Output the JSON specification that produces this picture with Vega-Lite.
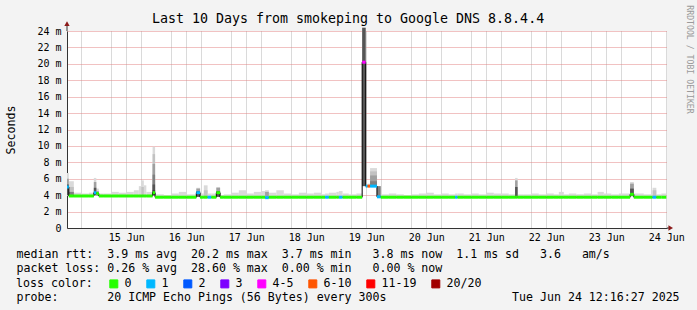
{
  "$schema": "https://vega.github.io/schema/vega-lite/v6.json",
  "width": 600,
  "height": 197,
  "autosize": "none",
  "padding": {"left": 67, "top": 31, "right": 30, "bottom": 82},
  "background": "#f3f3f3",
  "title": {"text": "Last 10 Days from smokeping to Google DNS 8.8.4.4", "font": "DejaVu Sans Mono", "fontSize": 13.3, "fontWeight": "normal", "color": "#000", "anchor": "middle", "frame": "group", "dx": -19, "dy": 27, "offset": 6},
  "datasets": {
    "d": [
      {"t": "2025-06-14T12:16:00Z", "t2": "2025-06-14T13:00:00Z", "m": 5.0, "lo": 3.9, "hi": 6.7, "l": "1"},
      {"t": "2025-06-14T13:00:00Z", "t2": "2025-06-14T15:00:00Z", "m": 3.9, "lo": 3.8, "hi": 5.7, "l": "0"},
      {"t": "2025-06-14T15:00:00Z", "t2": "2025-06-14T18:00:00Z", "m": 3.9, "lo": 3.8, "hi": 4.3, "l": "0"},
      {"t": "2025-06-14T18:00:00Z", "t2": "2025-06-14T21:00:00Z", "m": 3.9, "lo": 3.8, "hi": 4.2, "l": "0"},
      {"t": "2025-06-14T21:00:00Z", "t2": "2025-06-14T23:00:00Z", "m": 3.9, "lo": 3.8, "hi": 4.3, "l": "0"},
      {"t": "2025-06-14T23:00:00Z", "t2": "2025-06-15T00:00:00Z", "m": 4.3, "lo": 3.9, "hi": 6.1, "l": "1"},
      {"t": "2025-06-15T00:00:00Z", "t2": "2025-06-15T01:00:00Z", "m": 4.2, "lo": 3.9, "hi": 4.8, "l": "0"},
      {"t": "2025-06-15T01:00:00Z", "t2": "2025-06-15T03:00:00Z", "m": 3.9, "lo": 3.8, "hi": 4.2, "l": "0"},
      {"t": "2025-06-15T03:00:00Z", "t2": "2025-06-15T06:00:00Z", "m": 3.9, "lo": 3.8, "hi": 4.2, "l": "0"},
      {"t": "2025-06-15T06:00:00Z", "t2": "2025-06-15T09:00:00Z", "m": 3.9, "lo": 3.8, "hi": 4.4, "l": "0"},
      {"t": "2025-06-15T09:00:00Z", "t2": "2025-06-15T12:00:00Z", "m": 3.9, "lo": 3.8, "hi": 4.3, "l": "0"},
      {"t": "2025-06-15T12:00:00Z", "t2": "2025-06-15T15:00:00Z", "m": 3.9, "lo": 3.8, "hi": 4.4, "l": "0"},
      {"t": "2025-06-15T15:00:00Z", "t2": "2025-06-15T17:00:00Z", "m": 3.9, "lo": 3.8, "hi": 4.6, "l": "0"},
      {"t": "2025-06-15T17:00:00Z", "t2": "2025-06-15T18:00:00Z", "m": 3.9, "lo": 3.8, "hi": 5.1, "l": "0"},
      {"t": "2025-06-15T18:00:00Z", "t2": "2025-06-15T19:00:00Z", "m": 3.9, "lo": 3.8, "hi": 5.8, "l": "0"},
      {"t": "2025-06-15T19:00:00Z", "t2": "2025-06-15T20:00:00Z", "m": 3.9, "lo": 3.8, "hi": 5.2, "l": "0"},
      {"t": "2025-06-15T20:00:00Z", "t2": "2025-06-15T22:30:00Z", "m": 3.9, "lo": 3.8, "hi": 4.4, "l": "0"},
      {"t": "2025-06-15T22:30:00Z", "t2": "2025-06-15T23:30:00Z", "m": 4.3, "lo": 3.9, "hi": 9.9, "l": "0"},
      {"t": "2025-06-15T23:30:00Z", "t2": "2025-06-16T03:00:00Z", "m": 3.75, "lo": 3.7, "hi": 4.1, "l": "0"},
      {"t": "2025-06-16T03:00:00Z", "t2": "2025-06-16T06:00:00Z", "m": 3.75, "lo": 3.7, "hi": 4.0, "l": "0"},
      {"t": "2025-06-16T06:00:00Z", "t2": "2025-06-16T09:00:00Z", "m": 3.75, "lo": 3.7, "hi": 4.2, "l": "0"},
      {"t": "2025-06-16T09:00:00Z", "t2": "2025-06-16T12:00:00Z", "m": 3.75, "lo": 3.7, "hi": 4.4, "l": "0"},
      {"t": "2025-06-16T12:00:00Z", "t2": "2025-06-16T16:00:00Z", "m": 3.75, "lo": 3.7, "hi": 4.1, "l": "0"},
      {"t": "2025-06-16T16:00:00Z", "t2": "2025-06-16T17:30:00Z", "m": 4.3, "lo": 3.8, "hi": 4.9, "l": "1"},
      {"t": "2025-06-16T17:30:00Z", "t2": "2025-06-16T19:00:00Z", "m": 3.75, "lo": 3.7, "hi": 4.2, "l": "0"},
      {"t": "2025-06-16T19:00:00Z", "t2": "2025-06-16T20:30:00Z", "m": 3.75, "lo": 3.7, "hi": 5.2, "l": "0"},
      {"t": "2025-06-16T20:30:00Z", "t2": "2025-06-16T22:00:00Z", "m": 3.75, "lo": 3.7, "hi": 4.2, "l": "1"},
      {"t": "2025-06-16T22:00:00Z", "t2": "2025-06-17T00:00:00Z", "m": 3.75, "lo": 3.7, "hi": 4.2, "l": "0"},
      {"t": "2025-06-17T00:00:00Z", "t2": "2025-06-17T01:30:00Z", "m": 4.3, "lo": 3.8, "hi": 5.0, "l": "0"},
      {"t": "2025-06-17T01:30:00Z", "t2": "2025-06-17T03:00:00Z", "m": 3.75, "lo": 3.7, "hi": 4.0, "l": "0"},
      {"t": "2025-06-17T03:00:00Z", "t2": "2025-06-17T06:00:00Z", "m": 3.75, "lo": 3.7, "hi": 4.1, "l": "0"},
      {"t": "2025-06-17T06:00:00Z", "t2": "2025-06-17T09:00:00Z", "m": 3.75, "lo": 3.7, "hi": 4.3, "l": "0"},
      {"t": "2025-06-17T09:00:00Z", "t2": "2025-06-17T12:00:00Z", "m": 3.75, "lo": 3.7, "hi": 4.6, "l": "0"},
      {"t": "2025-06-17T12:00:00Z", "t2": "2025-06-17T15:00:00Z", "m": 3.75, "lo": 3.7, "hi": 4.2, "l": "0"},
      {"t": "2025-06-17T15:00:00Z", "t2": "2025-06-17T18:00:00Z", "m": 3.75, "lo": 3.7, "hi": 4.4, "l": "0"},
      {"t": "2025-06-17T18:00:00Z", "t2": "2025-06-17T19:30:00Z", "m": 3.75, "lo": 3.7, "hi": 4.5, "l": "0"},
      {"t": "2025-06-17T19:30:00Z", "t2": "2025-06-17T21:00:00Z", "m": 3.7, "lo": 3.6, "hi": 4.6, "l": "1"},
      {"t": "2025-06-17T21:00:00Z", "t2": "2025-06-18T00:00:00Z", "m": 3.75, "lo": 3.7, "hi": 4.3, "l": "0"},
      {"t": "2025-06-18T00:00:00Z", "t2": "2025-06-18T03:00:00Z", "m": 3.75, "lo": 3.7, "hi": 4.6, "l": "0"},
      {"t": "2025-06-18T03:00:00Z", "t2": "2025-06-18T06:00:00Z", "m": 3.75, "lo": 3.7, "hi": 4.2, "l": "0"},
      {"t": "2025-06-18T06:00:00Z", "t2": "2025-06-18T09:00:00Z", "m": 3.75, "lo": 3.7, "hi": 4.1, "l": "0"},
      {"t": "2025-06-18T09:00:00Z", "t2": "2025-06-18T12:00:00Z", "m": 3.75, "lo": 3.7, "hi": 4.3, "l": "0"},
      {"t": "2025-06-18T12:00:00Z", "t2": "2025-06-18T15:00:00Z", "m": 3.75, "lo": 3.7, "hi": 4.2, "l": "0"},
      {"t": "2025-06-18T15:00:00Z", "t2": "2025-06-18T18:00:00Z", "m": 3.75, "lo": 3.7, "hi": 4.3, "l": "0"},
      {"t": "2025-06-18T18:00:00Z", "t2": "2025-06-18T19:30:00Z", "m": 3.75, "lo": 3.7, "hi": 4.1, "l": "0"},
      {"t": "2025-06-18T19:30:00Z", "t2": "2025-06-18T21:00:00Z", "m": 3.75, "lo": 3.7, "hi": 4.2, "l": "1"},
      {"t": "2025-06-18T21:00:00Z", "t2": "2025-06-19T00:00:00Z", "m": 3.75, "lo": 3.7, "hi": 4.3, "l": "0"},
      {"t": "2025-06-19T00:00:00Z", "t2": "2025-06-19T01:00:00Z", "m": 3.75, "lo": 3.7, "hi": 4.4, "l": "0"},
      {"t": "2025-06-19T01:00:00Z", "t2": "2025-06-19T02:30:00Z", "m": 3.75, "lo": 3.7, "hi": 4.5, "l": "1"},
      {"t": "2025-06-19T02:30:00Z", "t2": "2025-06-19T05:00:00Z", "m": 3.75, "lo": 3.7, "hi": 4.2, "l": "0"},
      {"t": "2025-06-19T05:00:00Z", "t2": "2025-06-19T08:00:00Z", "m": 3.75, "lo": 3.7, "hi": 4.1, "l": "0"},
      {"t": "2025-06-19T08:00:00Z", "t2": "2025-06-19T10:20:00Z", "m": 3.75, "lo": 3.7, "hi": 4.2, "l": "0"},
      {"t": "2025-06-19T10:20:00Z", "t2": "2025-06-19T11:45:00Z", "m": 20.2, "lo": 5.1, "hi": 24.4, "l": "4-5"},
      {"t": "2025-06-19T11:45:00Z", "t2": "2025-06-19T12:30:00Z", "m": 5.1, "lo": 5.0, "hi": 5.3, "l": "1"},
      {"t": "2025-06-19T12:30:00Z", "t2": "2025-06-19T13:30:00Z", "m": 5.1, "lo": 5.0, "hi": 5.4, "l": "6-10"},
      {"t": "2025-06-19T13:30:00Z", "t2": "2025-06-19T16:15:00Z", "m": 5.1, "lo": 5.0, "hi": 7.3, "l": "1"},
      {"t": "2025-06-19T16:15:00Z", "t2": "2025-06-19T17:45:00Z", "m": 3.8, "lo": 3.7, "hi": 5.1, "l": "1"},
      {"t": "2025-06-19T17:45:00Z", "t2": "2025-06-19T21:00:00Z", "m": 3.75, "lo": 3.7, "hi": 4.1, "l": "0"},
      {"t": "2025-06-19T21:00:00Z", "t2": "2025-06-20T00:00:00Z", "m": 3.75, "lo": 3.7, "hi": 4.2, "l": "0"},
      {"t": "2025-06-20T00:00:00Z", "t2": "2025-06-20T03:00:00Z", "m": 3.75, "lo": 3.7, "hi": 4.1, "l": "0"},
      {"t": "2025-06-20T03:00:00Z", "t2": "2025-06-20T06:00:00Z", "m": 3.75, "lo": 3.7, "hi": 4.0, "l": "0"},
      {"t": "2025-06-20T06:00:00Z", "t2": "2025-06-20T09:00:00Z", "m": 3.75, "lo": 3.7, "hi": 4.1, "l": "0"},
      {"t": "2025-06-20T09:00:00Z", "t2": "2025-06-20T12:00:00Z", "m": 3.75, "lo": 3.7, "hi": 4.2, "l": "0"},
      {"t": "2025-06-20T12:00:00Z", "t2": "2025-06-20T15:00:00Z", "m": 3.75, "lo": 3.7, "hi": 4.3, "l": "0"},
      {"t": "2025-06-20T15:00:00Z", "t2": "2025-06-20T18:00:00Z", "m": 3.75, "lo": 3.7, "hi": 4.1, "l": "0"},
      {"t": "2025-06-20T18:00:00Z", "t2": "2025-06-20T21:00:00Z", "m": 3.75, "lo": 3.7, "hi": 4.2, "l": "0"},
      {"t": "2025-06-20T21:00:00Z", "t2": "2025-06-20T23:30:00Z", "m": 3.75, "lo": 3.7, "hi": 4.1, "l": "0"},
      {"t": "2025-06-20T23:30:00Z", "t2": "2025-06-21T00:30:00Z", "m": 3.75, "lo": 3.7, "hi": 4.2, "l": "1"},
      {"t": "2025-06-21T00:30:00Z", "t2": "2025-06-21T03:00:00Z", "m": 3.75, "lo": 3.7, "hi": 4.2, "l": "0"},
      {"t": "2025-06-21T03:00:00Z", "t2": "2025-06-21T06:00:00Z", "m": 3.75, "lo": 3.7, "hi": 4.1, "l": "0"},
      {"t": "2025-06-21T06:00:00Z", "t2": "2025-06-21T09:00:00Z", "m": 3.75, "lo": 3.7, "hi": 4.2, "l": "0"},
      {"t": "2025-06-21T09:00:00Z", "t2": "2025-06-21T12:00:00Z", "m": 3.75, "lo": 3.7, "hi": 4.1, "l": "0"},
      {"t": "2025-06-21T12:00:00Z", "t2": "2025-06-21T15:00:00Z", "m": 3.75, "lo": 3.7, "hi": 4.3, "l": "0"},
      {"t": "2025-06-21T15:00:00Z", "t2": "2025-06-21T18:00:00Z", "m": 3.75, "lo": 3.7, "hi": 4.2, "l": "0"},
      {"t": "2025-06-21T18:00:00Z", "t2": "2025-06-21T21:00:00Z", "m": 3.75, "lo": 3.7, "hi": 4.2, "l": "0"},
      {"t": "2025-06-21T21:00:00Z", "t2": "2025-06-21T23:30:00Z", "m": 3.75, "lo": 3.7, "hi": 4.1, "l": "0"},
      {"t": "2025-06-21T23:30:00Z", "t2": "2025-06-22T00:30:00Z", "m": 3.75, "lo": 3.7, "hi": 6.1, "l": "0"},
      {"t": "2025-06-22T00:30:00Z", "t2": "2025-06-22T03:00:00Z", "m": 3.75, "lo": 3.7, "hi": 4.1, "l": "0"},
      {"t": "2025-06-22T03:00:00Z", "t2": "2025-06-22T06:00:00Z", "m": 3.75, "lo": 3.7, "hi": 4.1, "l": "0"},
      {"t": "2025-06-22T06:00:00Z", "t2": "2025-06-22T09:00:00Z", "m": 3.75, "lo": 3.7, "hi": 4.2, "l": "0"},
      {"t": "2025-06-22T09:00:00Z", "t2": "2025-06-22T12:00:00Z", "m": 3.75, "lo": 3.7, "hi": 4.1, "l": "0"},
      {"t": "2025-06-22T12:00:00Z", "t2": "2025-06-22T15:00:00Z", "m": 3.75, "lo": 3.7, "hi": 4.2, "l": "0"},
      {"t": "2025-06-22T15:00:00Z", "t2": "2025-06-22T17:00:00Z", "m": 3.75, "lo": 3.7, "hi": 4.1, "l": "0"},
      {"t": "2025-06-22T17:00:00Z", "t2": "2025-06-22T19:00:00Z", "m": 3.75, "lo": 3.7, "hi": 4.4, "l": "0"},
      {"t": "2025-06-22T19:00:00Z", "t2": "2025-06-22T21:00:00Z", "m": 3.75, "lo": 3.7, "hi": 4.1, "l": "0"},
      {"t": "2025-06-22T21:00:00Z", "t2": "2025-06-23T00:00:00Z", "m": 3.75, "lo": 3.7, "hi": 4.2, "l": "0"},
      {"t": "2025-06-23T00:00:00Z", "t2": "2025-06-23T03:00:00Z", "m": 3.75, "lo": 3.7, "hi": 4.1, "l": "0"},
      {"t": "2025-06-23T03:00:00Z", "t2": "2025-06-23T06:00:00Z", "m": 3.75, "lo": 3.7, "hi": 4.2, "l": "0"},
      {"t": "2025-06-23T06:00:00Z", "t2": "2025-06-23T08:30:00Z", "m": 3.75, "lo": 3.7, "hi": 4.1, "l": "0"},
      {"t": "2025-06-23T08:30:00Z", "t2": "2025-06-23T11:00:00Z", "m": 3.75, "lo": 3.7, "hi": 4.4, "l": "0"},
      {"t": "2025-06-23T11:00:00Z", "t2": "2025-06-23T14:00:00Z", "m": 3.75, "lo": 3.7, "hi": 4.2, "l": "0"},
      {"t": "2025-06-23T14:00:00Z", "t2": "2025-06-23T17:00:00Z", "m": 3.75, "lo": 3.7, "hi": 4.1, "l": "0"},
      {"t": "2025-06-23T17:00:00Z", "t2": "2025-06-23T21:30:00Z", "m": 3.75, "lo": 3.7, "hi": 4.2, "l": "0"},
      {"t": "2025-06-23T21:30:00Z", "t2": "2025-06-23T23:00:00Z", "m": 4.1, "lo": 3.8, "hi": 5.6, "l": "0"},
      {"t": "2025-06-23T23:00:00Z", "t2": "2025-06-24T03:00:00Z", "m": 3.75, "lo": 3.7, "hi": 4.2, "l": "0"},
      {"t": "2025-06-24T03:00:00Z", "t2": "2025-06-24T06:30:00Z", "m": 3.75, "lo": 3.7, "hi": 4.1, "l": "0"},
      {"t": "2025-06-24T06:30:00Z", "t2": "2025-06-24T08:00:00Z", "m": 3.75, "lo": 3.7, "hi": 4.9, "l": "1"},
      {"t": "2025-06-24T08:00:00Z", "t2": "2025-06-24T10:00:00Z", "m": 3.75, "lo": 3.7, "hi": 4.1, "l": "0"},
      {"t": "2025-06-24T10:00:00Z", "t2": "2025-06-24T12:00:00Z", "m": 3.75, "lo": 3.7, "hi": 4.2, "l": "0"}
    ],
    "s": [
      {"t": "2025-06-14T12:16:00Z", "t2": "2025-06-14T13:00:00Z", "lo": 4.0, "hi": 6.0, "g": "2"},
      {"t": "2025-06-14T12:16:00Z", "t2": "2025-06-14T13:00:00Z", "lo": 4.0, "hi": 5.3, "g": "4"},
      {"t": "2025-06-14T13:00:00Z", "t2": "2025-06-14T15:00:00Z", "lo": 3.9, "hi": 5.0, "g": "1"},
      {"t": "2025-06-14T13:00:00Z", "t2": "2025-06-14T15:00:00Z", "lo": 3.9, "hi": 4.4, "g": "3"},
      {"t": "2025-06-14T23:00:00Z", "t2": "2025-06-15T00:00:00Z", "lo": 4.0, "hi": 5.6, "g": "2"},
      {"t": "2025-06-14T23:00:00Z", "t2": "2025-06-15T00:00:00Z", "lo": 4.0, "hi": 4.9, "g": "4"},
      {"t": "2025-06-15T00:00:00Z", "t2": "2025-06-15T01:00:00Z", "lo": 3.9, "hi": 4.5, "g": "2"},
      {"t": "2025-06-15T18:00:00Z", "t2": "2025-06-15T19:00:00Z", "lo": 3.9, "hi": 5.0, "g": "1"},
      {"t": "2025-06-15T22:30:00Z", "t2": "2025-06-15T23:30:00Z", "lo": 4.0, "hi": 9.0, "g": "1"},
      {"t": "2025-06-15T22:30:00Z", "t2": "2025-06-15T23:30:00Z", "lo": 4.0, "hi": 7.8, "g": "2"},
      {"t": "2025-06-15T22:30:00Z", "t2": "2025-06-15T23:30:00Z", "lo": 4.0, "hi": 6.5, "g": "3"},
      {"t": "2025-06-15T22:30:00Z", "t2": "2025-06-15T23:30:00Z", "lo": 4.0, "hi": 5.3, "g": "4"},
      {"t": "2025-06-15T22:30:00Z", "t2": "2025-06-15T23:30:00Z", "lo": 4.0, "hi": 4.6, "g": "5"},
      {"t": "2025-06-16T16:00:00Z", "t2": "2025-06-16T17:30:00Z", "lo": 3.8, "hi": 4.8, "g": "2"},
      {"t": "2025-06-16T16:00:00Z", "t2": "2025-06-16T17:30:00Z", "lo": 3.8, "hi": 4.5, "g": "4"},
      {"t": "2025-06-16T19:00:00Z", "t2": "2025-06-16T20:30:00Z", "lo": 3.8, "hi": 4.6, "g": "1"},
      {"t": "2025-06-17T00:00:00Z", "t2": "2025-06-17T01:30:00Z", "lo": 3.8, "hi": 4.9, "g": "2"},
      {"t": "2025-06-17T00:00:00Z", "t2": "2025-06-17T01:30:00Z", "lo": 3.8, "hi": 4.5, "g": "4"},
      {"t": "2025-06-17T19:30:00Z", "t2": "2025-06-17T21:00:00Z", "lo": 3.7, "hi": 4.4, "g": "2"},
      {"t": "2025-06-19T10:20:00Z", "t2": "2025-06-19T11:45:00Z", "lo": 5.1, "hi": 24.4, "g": "4"},
      {"t": "2025-06-19T13:30:00Z", "t2": "2025-06-19T16:15:00Z", "lo": 5.2, "hi": 6.9, "g": "1"},
      {"t": "2025-06-19T13:30:00Z", "t2": "2025-06-19T16:15:00Z", "lo": 5.2, "hi": 6.4, "g": "2"},
      {"t": "2025-06-19T13:30:00Z", "t2": "2025-06-19T16:15:00Z", "lo": 5.2, "hi": 5.7, "g": "3"},
      {"t": "2025-06-19T16:15:00Z", "t2": "2025-06-19T17:45:00Z", "lo": 3.8, "hi": 5.1, "g": "3"},
      {"t": "2025-06-21T23:30:00Z", "t2": "2025-06-22T00:30:00Z", "lo": 3.8, "hi": 5.8, "g": "2"},
      {"t": "2025-06-21T23:30:00Z", "t2": "2025-06-22T00:30:00Z", "lo": 3.8, "hi": 5.0, "g": "4"},
      {"t": "2025-06-23T21:30:00Z", "t2": "2025-06-23T23:00:00Z", "lo": 3.9, "hi": 5.4, "g": "2"},
      {"t": "2025-06-23T21:30:00Z", "t2": "2025-06-23T23:00:00Z", "lo": 3.9, "hi": 4.8, "g": "4"},
      {"t": "2025-06-24T06:30:00Z", "t2": "2025-06-24T08:00:00Z", "lo": 3.8, "hi": 4.6, "g": "1"}
    ],
    "ax": [
      {"t": "2025-06-14T12:16:00Z", "t2": "2025-06-14T12:16:00Z", "v": 24, "v2": 24.7},
      {"t": "2025-06-24T12:16:00Z", "t2": "2025-06-24T13:30:00Z", "v": 0, "v2": 0}
    ],
    "ar": [
      {"t": "2025-06-14T12:16:00Z", "v": 24.9, "shape": "triangle-up"},
      {"t": "2025-06-24T13:45:00Z", "v": 0, "shape": "triangle-right"}
    ]
  },
  "encoding": {
    "x": {
      "field": "t", "type": "temporal",
      "scale": {"type": "utc", "nice": false, "domain": [1749903360000, 1750767360000]},
      "axis": {
        "values": [1749924000000, 1749967200000, 1749988800000, 1750010400000, 1750053600000, 1750075200000, 1750096800000, 1750140000000, 1750161600000, 1750183200000, 1750226400000, 1750248000000, 1750269600000, 1750312800000, 1750334400000, 1750356000000, 1750399200000, 1750420800000, 1750442400000, 1750485600000, 1750507200000, 1750528800000, 1750572000000, 1750593600000, 1750615200000, 1750658400000, 1750680000000, 1750701600000, 1750744800000, 1750766400000],
        "labelExpr": "utchours(datum.value) === 12 ? utcFormat(datum.value, '%d %b') : ''",
        "labelFontSize": 10, "labelPadding": 4, "labelOverlap": false, "labelFlush": false,
        "gridColor": "#b4b4b4",
        "title": [
          "median\u00a0rtt:\u00a0\u00a03.9\u00a0ms\u00a0avg\u00a0\u00a020.2\u00a0ms\u00a0max\u00a0\u00a03.7\u00a0ms\u00a0min\u00a0\u00a0\u00a03.8\u00a0ms\u00a0now\u00a0\u00a01.1\u00a0ms\u00a0sd\u00a0\u00a0\u00a03.6\u00a0\u00a0\u00a0am/s",
          "packet\u00a0loss:\u00a00.26\u00a0%\u00a0avg\u00a0\u00a028.60\u00a0%\u00a0max\u00a0\u00a00.00\u00a0%\u00a0min\u00a0\u00a0\u00a00.00\u00a0%\u00a0now"
        ],
        "titleX": -51, "titleY": 20, "titleAlign": "left", "titleAnchor": "start", "titleBaseline": "top",
        "titleFontSize": 11.6, "titleLineHeight": 14
      }
    }
  },
  "layer": [
    {
      "layer": [
        {
          "data": {"name": "d"},
          "mark": {"type": "rect", "fill": "#dadada"},
          "encoding": {
            "x2": {"field": "t2"},
            "y": {"field": "lo", "type": "quantitative", "scale": {"domain": [0, 24], "nice": false},
              "axis": {"values": [0,2,4,6,8,10,12,14,16,18,20,22,24], "labelExpr": "datum.value === 0 ? '0' : datum.value + ' m'", "labelFontSize": 10, "labelPadding": 6, "labelOverlap": false, "gridColor": "#e28585", "title": "Seconds", "titleX": -56, "titleY": 98.5, "titleAngle": 270, "titleAlign": "center", "titleBaseline": "middle", "titleFontSize": 11.6}},
            "y2": {"field": "hi"}
          }
        },
        {
          "data": {"name": "s"},
          "mark": {"type": "rect"},
          "encoding": {
            "x2": {"field": "t2"},
            "y": {"field": "lo", "type": "quantitative", "scale": {"domain": [0, 24], "nice": false},
              "axis": {"values": [0,2,4,6,8,10,12,14,16,18,20,22,24], "labelExpr": "datum.value === 0 ? '0' : datum.value + ' m'", "labelFontSize": 10, "labelPadding": 6, "labelOverlap": false, "gridColor": "#e28585", "title": "Seconds", "titleX": -56, "titleY": 98.5, "titleAngle": 270, "titleAlign": "center", "titleBaseline": "middle", "titleFontSize": 11.6}},
            "y2": {"field": "hi"},
            "fill": {"field": "g", "type": "nominal", "legend": null,
              "scale": {"domain": ["1", "2", "3", "4", "5"], "range": ["#c2c2c2", "#a0a0a0", "#808080", "#555555", "#383838"]}}
          }
        },
        {
          "data": {"name": "d"},
          "mark": {"type": "line", "interpolate": "step-after", "color": "#000000", "strokeWidth": 1},
          "encoding": {
            "y": {"field": "m", "type": "quantitative", "scale": {"domain": [0, 24], "nice": false},
              "axis": {"values": [0,2,4,6,8,10,12,14,16,18,20,22,24], "labelExpr": "datum.value === 0 ? '0' : datum.value + ' m'", "labelFontSize": 10, "labelPadding": 6, "labelOverlap": false, "gridColor": "#e28585", "title": "Seconds", "titleX": -56, "titleY": 98.5, "titleAngle": 270, "titleAlign": "center", "titleBaseline": "middle", "titleFontSize": 11.6}}
          }
        },
        {
          "data": {"name": "d"},
          "mark": {"type": "rule", "strokeWidth": 3, "strokeCap": "butt"},
          "encoding": {
            "x2": {"field": "t2"},
            "y": {"field": "m", "type": "quantitative", "scale": {"domain": [0, 24], "nice": false},
              "axis": {"values": [0,2,4,6,8,10,12,14,16,18,20,22,24], "labelExpr": "datum.value === 0 ? '0' : datum.value + ' m'", "labelFontSize": 10, "labelPadding": 6, "labelOverlap": false, "gridColor": "#e28585", "title": "Seconds", "titleX": -56, "titleY": 98.5, "titleAngle": 270, "titleAlign": "center", "titleBaseline": "middle", "titleFontSize": 11.6}},
            "color": {
              "field": "l", "type": "nominal",
              "scale": {"domain": ["0", "1", "2", "3", "4-5", "6-10", "11-19", "20/20"],
                "range": ["#26ff00", "#00b8ff", "#0059ff", "#7e00ff", "#ff00ff", "#ff5500", "#ff0000", "#a10000"]},
              "legend": {
                "orient": "none", "legendX": -51, "legendY": 247, "direction": "horizontal",
                "title": "loss color:", "titleOrient": "left", "titlePadding": 15,
                "titleFont": "DejaVu Sans Mono", "titleFontSize": 11.6, "titleFontWeight": "normal", "titleColor": "#000000",
                "labelFont": "DejaVu Sans Mono", "labelFontSize": 11.6, "labelColor": "#000000", "labelOffset": 5,
                "columnPadding": 12, "symbolType": "square", "symbolSize": 64, "symbolStrokeWidth": 1,
                "symbolStrokeColor": "#000000", "symbolOpacity": 1,
                "encode": {"symbols": {"update": {"fill": {"scale": "color", "field": "value"}, "fillOpacity": {"value": 1}, "stroke": {"value": "#000000"}, "strokeWidth": {"value": 1}}}}
              }
            }
          }
        },
        {
          "data": {"name": "ax"},
          "mark": {"type": "rule", "color": "#333333", "strokeWidth": 1},
          "encoding": {
            "x2": {"field": "t2"},
            "y": {"field": "v", "type": "quantitative", "scale": {"domain": [0, 24], "nice": false},
              "axis": {"values": [0,2,4,6,8,10,12,14,16,18,20,22,24], "labelExpr": "datum.value === 0 ? '0' : datum.value + ' m'", "labelFontSize": 10, "labelPadding": 6, "labelOverlap": false, "gridColor": "#e28585", "title": "Seconds", "titleX": -56, "titleY": 98.5, "titleAngle": 270, "titleAlign": "center", "titleBaseline": "middle", "titleFontSize": 11.6}},
            "y2": {"field": "v2"}
          }
        }
      ]
    },
    {
      "data": {"name": "ar"},
      "mark": {"type": "point", "filled": true, "opacity": 1, "color": "#8b1a1a", "size": 28},
      "encoding": {
        "x": {"field": "t", "type": "temporal",
          "scale": {"type": "utc", "nice": false, "domain": [1749903360000, 1750767360000]},
          "axis": {"orient": "top", "values": [1749945600000, 1750032000000, 1750118400000, 1750204800000, 1750291200000, 1750377600000, 1750464000000, 1750550400000, 1750636800000, 1750723200000],
            "labels": false, "ticks": false, "domain": false, "gridColor": "#e28585",
            "title": "probe:\u00a0\u00a0\u00a0\u00a0\u00a0\u00a0\u00a020\u00a0ICMP\u00a0Echo\u00a0Pings\u00a0(56\u00a0Bytes)\u00a0every\u00a0300s\u00a0\u00a0\u00a0\u00a0\u00a0\u00a0\u00a0\u00a0\u00a0\u00a0\u00a0\u00a0\u00a0\u00a0\u00a0\u00a0\u00a0\u00a0Tue\u00a0Jun\u00a024\u00a012:16:27\u00a02025",
            "titleX": -51, "titleY": 260, "titleAlign": "left", "titleAnchor": "start", "titleBaseline": "top", "titleFontSize": 11.6}},
        "y": {"field": "v", "type": "quantitative", "scale": {"domain": [0, 24], "nice": false},
          "axis": {"orient": "right", "values": [1,3,5,7,9,11,13,15,17,19,21,23], "labels": false, "ticks": false, "domain": false, "gridColor": "#b4b4b4",
            "title": "RRDTOOL / TOBI OETIKER",
            "titleAngle": 90, "titleX": 21, "titleY": 28, "titleFontSize": 8.2, "titleColor": "#9a9a9a",
            "titleAlign": "center", "titleBaseline": "middle"}},
        "shape": {"field": "shape", "type": "nominal", "scale": null}
      }
    }
  ],
  "resolve": {"axis": {"x": "independent", "y": "independent"}},
  "config": {
    "font": "DejaVu Sans Mono",
    "view": {"fill": "#ffffff", "stroke": null},
    "axis": {
      "labelFont": "DejaVu Sans Mono", "titleFont": "DejaVu Sans Mono", "labelColor": "#000000", "titleColor": "#000000",
      "titleFontWeight": "normal", "gridDash": [1, 1], "gridOpacity": 1, "gridWidth": 1, "domainColor": "#333333", "ticks": false
    }
  }
}
